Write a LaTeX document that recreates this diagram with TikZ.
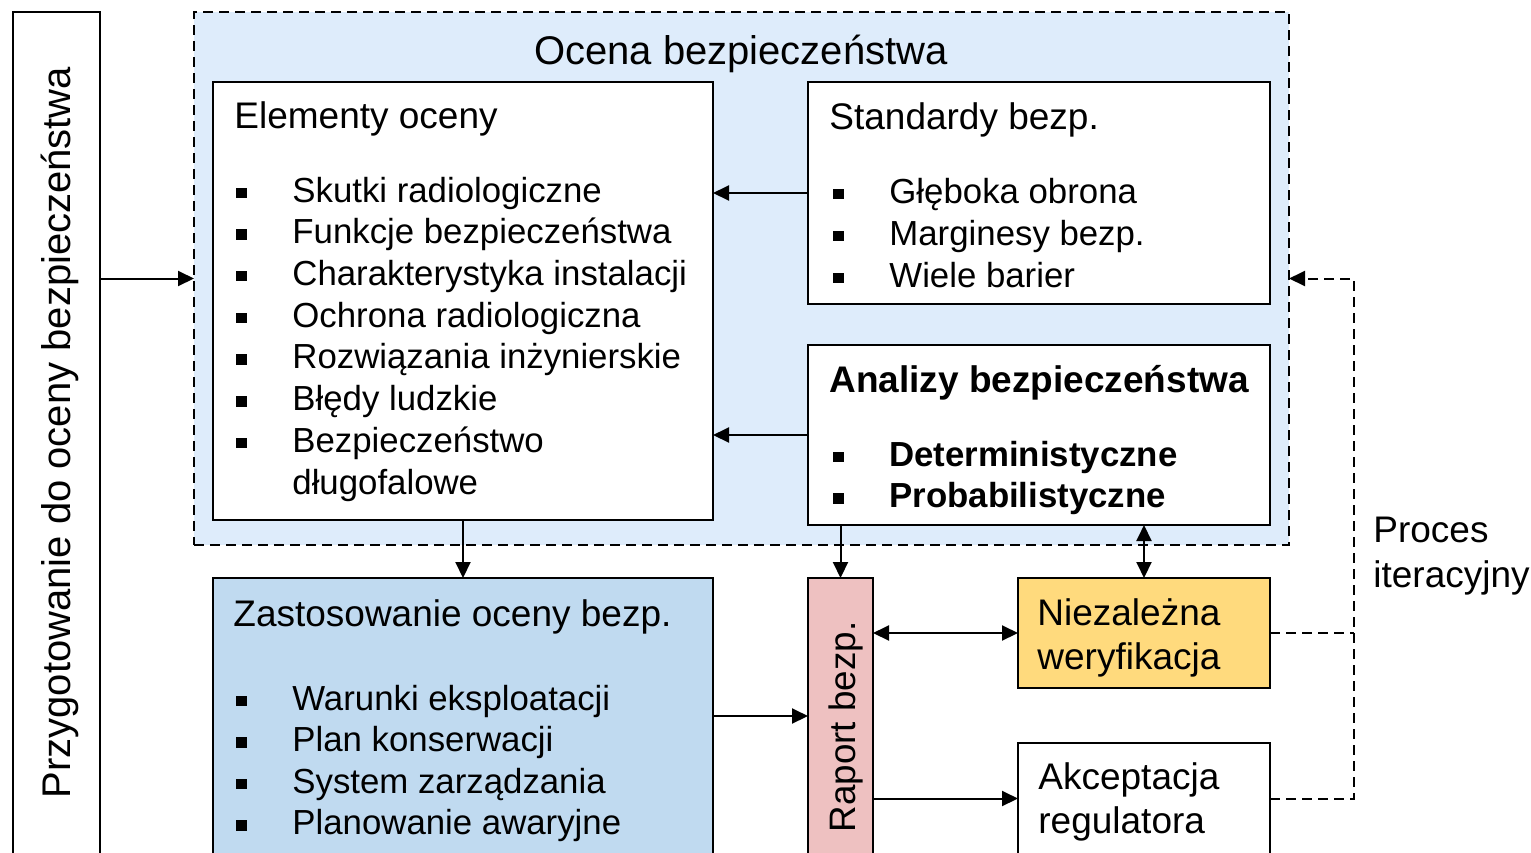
\documentclass[tikz,border=0pt]{standalone}
\usepackage{fontspec}
\setmainfont{Liberation Sans}
\usetikzlibrary{arrows.meta,fit}

\definecolor{ocenafill}{RGB}{222,236,251}
\definecolor{zastfill}{RGB}{192,218,240}
\definecolor{raportfill}{RGB}{238,193,193}
\definecolor{weryfill}{RGB}{255,218,125}

% square bullet followed by the indent of a list item
\newcommand\bul{\makebox[28pt][l]{\raisebox{2pt}{\rule{5.2pt}{5.2pt}}}}

\begin{document}
\begin{tikzpicture}[x=0.5pt,y=-0.5pt,
  box/.style={draw, line width=1.2pt, inner sep=0pt, outer sep=0pt},
  txt/.style={anchor=base west, inner sep=0pt, font=\fontsize{17.4}{20.8}\selectfont},
  head/.style={anchor=base west, inner sep=0pt, font=\fontsize{18.5}{22}\selectfont},
  arr/.style={line width=1pt, -{Triangle[length=8pt,width=7.5pt]}},
  darr/.style={line width=1pt, {Triangle[length=8pt,width=7.5pt]}-{Triangle[length=8pt,width=7.5pt]}},
  loop/.style={line width=1pt, dash pattern=on 5pt off 3pt}
]
\clip (0,0) rectangle (1531,852);

% outer frames
\node[box, fit={(13,12)(100,854)}] (przyg) {};
\node[draw, fill=ocenafill, line width=1pt, dash pattern=on 5pt off 3pt,
      inner sep=0pt, outer sep=0pt, fit={(194,12)(1289,545)}] (ocena) {};

% boxes
\node[box, fill=white, fit={(213,82)(713,520)}] (elem) {};
\node[box, fill=white, fit={(808,82)(1270,304)}] (std) {};
\node[box, fill=white, fit={(808,345)(1270,525)}] (anal) {};
\node[box, fill=zastfill, fit={(213,578)(713,854)}] (zast) {};
\node[box, fill=raportfill, fit={(808,578)(873,854)}] (raport) {};
\node[box, fill=weryfill, fit={(1018,578)(1270,688)}] (niez) {};
\node[box, fill=white, fit={(1018,743)(1270,854)}] (akc) {};

% rotated labels
\node[rotate=90, anchor=base, inner sep=0pt, font=\fontsize{20}{24}\selectfont]
  (przygT) at (70,432.5) {Przygotowanie do oceny bezpieczeństwa};
\node[rotate=90, anchor=base, inner sep=0pt, font=\fontsize{18.4}{22}\selectfont]
  (raportT) at (855,727) {Raport bezp.};

% titles
\node[anchor=base, inner sep=0pt, font=\fontsize{20}{24}\selectfont]
  (ocenaT) at (741,64) {Ocena bezpieczeństwa};
\node[head] (elemT) at (234,128) {Elementy oceny};
\node[head] (stdT) at (829,129) {Standardy bezp.};
\node[head, font=\fontsize{18.5}{22}\selectfont\bfseries] (analT) at (829,392) {Analizy bezpieczeństwa};
\node[head] (zastT) at (233,626) {Zastosowanie oceny bezp.};

% list items
\foreach \t [count=\i] in {Skutki radiologiczne, Funkcje bezpieczeństwa,
  Charakterystyka instalacji, Ochrona radiologiczna,
  Rozwiązania inżynierskie, Błędy ludzkie, Bezpieczeństwo}
  \node[txt] (e\i) at (236,{202+41.7*(\i-1)}) {\bul\t};
\node[txt] (e8) at (292,494) {długofalowe};

\foreach \t [count=\i] in {Głęboka obrona, Marginesy bezp., Wiele barier}
  \node[txt] (s\i) at (833,{203+42*(\i-1)}) {\bul\t};

\node[txt, font=\fontsize{17.4}{20.8}\selectfont\bfseries] (a1) at (833,466) {\bul Deterministyczne};
\node[txt, font=\fontsize{17.4}{20.8}\selectfont\bfseries] (a2) at (833,507.5) {\bul Probabilistyczne};

\foreach \t [count=\i] in {Warunki eksploatacji, Plan konserwacji,
  System zarządzania, Planowanie awaryjne}
  \node[txt] (z\i) at (236,{710+41.5*(\i-1)}) {\bul\t};

\node[head] (n1) at (1037,625) {Niezależna};
\node[head] (n2) at (1037,669) {weryfikacja};
\node[head] (k1) at (1038,789) {Akceptacja};
\node[head] (k2) at (1038,833) {regulatora};

\node[head] (p1) at (1373,542) {Proces};
\node[head] (p2) at (1373,587) {iteracyjny};

% connectors
\draw[arr] (ocena.west -| przyg.east) -- (ocena.west);
\draw[arr] (std.west) -- (std.west -| elem.east);
\draw[arr] (anal.west) -- (anal.west -| elem.east);
\draw[arr] (elem.south) -- (zast.north);
\draw[arr] (raport.north |- anal.south) -- (raport.north);
\draw[darr] (niez.north |- anal.south) -- (niez.north);
\draw[darr] (niez.west -| raport.east) -- (niez.west);
\draw[arr] (zast.east) -- (zast.east -| raport.west);
\draw[arr] (akc.west -| raport.east) -- (akc.west);

% iteration loop
\coordinate (loopx) at (1354,0);
\draw[loop] (niez.east) -- (niez.east -| loopx);
\draw[loop, -{Triangle[length=8pt,width=7.5pt]}]
  (akc.east) -- (akc.east -| loopx) -- (ocena.east -| loopx) -- (ocena.east);
\end{tikzpicture}
\end{document}
